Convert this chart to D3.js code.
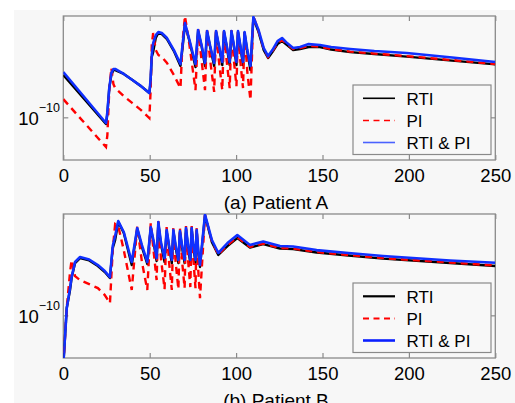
<!DOCTYPE html>
<html>
<head>
<meta charset="utf-8">
<script src="https://cdn.jsdelivr.net/npm/d3@7"></script>
<style>
  body { margin: 0; background: #fff; }
  text { font-family: "Liberation Sans", Arial, sans-serif; fill: #000; }
</style>
</head>
<body>
<div id="chart"></div>
<script>
// ---- data ----
const seriesNames = ["RTI", "PI", "RTI & PI"];
const xTicks = [0, 50, 100, 150, 200, 250];
const yTicks = [1e-10];

// Patient A
const daysA = [0, 24.7, 25.5, 26.6, 27.8, 29, 30, 35, 40, 45, 49.8, 50.5, 51.2, 52, 53.5, 55, 57, 60, 64, 67.8,
  69, 70.4, 73, 76.5, 78, 80, 82, 83.2, 85, 87.3, 88.4, 90, 92, 93, 94.5, 96.3, 97.3, 98.7, 100.2, 101.1,
  102.5, 104, 104.9, 106.5, 108.3, 110, 113, 116, 118.5, 121, 124, 126.6, 129.5, 133, 137, 142, 148.5,
  155, 166, 180, 198.7, 225, 250];
const rtiA = [2.49, 0.865, 1.07, 1.88, 2.49, 2.77, 2.77, 2.55, 2.24, 1.96, 1.69, 2.14, 3.68, 4.09, 5.54, 6.17, 6.04, 5.42, 4.18, 3.03,
  4.46, 7.49, 5.19, 2.96, 6.44, 4.66, 3.03, 6.30, 4.56, 3.03, 6.30, 4.66, 3.09, 6.30, 4.66, 3.09, 6.30, 4.66, 3.09, 6.30,
  4.56, 3.09, 6.17, 4.09, 2.77, 8.53, 6.30, 4.27, 3.60, 4.09, 4.86, 5.19, 4.76, 4.27, 4.37, 4.56, 4.56,
  4.32, 4.09, 3.92, 3.71, 3.40, 3.14].map(v => v * 1e-10);
const piA = [1.48, 0.527, 0.682, 1.80, 2.90, 2.05, 1.88, 1.58, 1.36, 1.17, 0.985, 1.73, 4.76, 6.17, 4.27, 3.84, 3.68, 3.23, 2.49, 1.88,
  5.08, 8.90, 4.76, 1.80, 6.72, 3.44, 1.80, 6.58, 3.44, 1.73, 6.58, 3.44, 1.80, 6.58, 3.44, 1.88, 6.58, 3.44, 1.96, 6.44,
  3.30, 1.88, 6.30, 2.66, 1.45, 8.90, 6.44, 4.37, 3.68, 4.18, 4.97, 5.30, 4.86, 4.37, 4.46, 4.66, 4.61,
  4.37, 4.13, 3.96, 3.75, 3.44, 3.16].map(v => v * 1e-10);
const bothA = [2.66, 0.885, 1.12, 1.88, 2.60, 2.84, 2.84, 2.55, 2.24, 1.96, 1.69, 2.24, 3.84, 4.97, 5.91, 6.30, 6.17, 5.54, 4.27, 3.16,
  4.76, 7.65, 5.30, 3.16, 6.58, 4.76, 3.23, 6.44, 4.66, 3.23, 6.44, 4.76, 3.30, 6.44, 4.76, 3.30, 6.44, 4.76, 3.30, 6.44,
  4.66, 3.30, 6.30, 4.27, 3.03, 8.71, 6.58, 4.46, 3.75, 4.27, 5.19, 5.54, 4.97, 4.46, 4.56, 4.86, 4.76,
  4.56, 4.37, 4.18, 4.01, 3.64, 3.30].map(v => v * 1e-10);

// Patient B
const daysB = [0, 2, 3.9, 4.8, 6.8, 9.7, 15, 20, 24, 27, 28.6, 30, 31.8, 35, 39.6, 42.8, 45.5, 48.6, 50.6, 52.5,
  54, 55, 56.5, 58.6, 59.8, 61.2, 62.8, 63.7, 65, 66.6, 67.5, 68.8, 70.2, 71, 72.2, 73.5, 74.3, 75.3, 76.5,
  77.2, 78.1, 79.1, 82, 86, 89.7, 95, 100.7, 108, 115.7, 125.4, 133, 146.6, 165, 185, 223.8, 250];
const rtiB = [0.342, 1.17, 1.73, 2.24, 3.09, 3.44, 3.27, 2.90, 2.55, 2.24, 4.27, 5.08, 7.49, 5.91, 2.96, 6.44, 4.37, 3.03, 6.58, 4.56,
  3.23, 7.33, 4.66, 3.16, 6.17, 4.37, 3.09, 6.17, 4.37, 3.09, 6.04, 4.27, 3.09, 6.44, 4.37, 3.09, 6.44, 4.37, 3.09,
  6.17, 3.92, 2.84, 8.62, 4.86, 3.68, 4.46, 5.30, 4.32, 4.66, 4.23, 4.18, 3.88, 3.64, 3.40, 3.09, 2.90].map(v => v * 1e-10);
const piB = [0.342, 1.17, 2.55, 3.30, 2.33, 2.14, 1.96, 1.80, 1.55, 1.30, 4.09, 7.17, 6.87, 4.09, 1.73, 6.87, 3.16, 1.73, 7.33, 3.68,
  2.14, 7.65, 3.44, 1.76, 6.72, 3.16, 1.73, 6.72, 3.16, 1.76, 6.58, 3.16, 1.80, 6.87, 3.30, 1.84, 6.87, 3.30, 1.80,
  6.58, 2.66, 1.45, 8.71, 4.97, 3.71, 4.56, 5.42, 4.37, 4.71, 4.27, 4.23, 3.92, 3.68, 3.44, 3.13, 2.93].map(v => v * 1e-10);
const bothB = [0.342, 1.17, 1.80, 2.28, 3.16, 3.52, 3.34, 2.96, 2.60, 2.28, 4.46, 5.54, 7.65, 6.04, 3.16, 6.58, 4.56, 3.16, 6.72, 4.76,
  3.44, 7.49, 4.86, 3.44, 6.30, 4.56, 3.30, 6.30, 4.56, 3.30, 6.17, 4.46, 3.30, 6.58, 4.56, 3.30, 6.58, 4.56, 3.30,
  6.30, 4.09, 2.96, 8.80, 5.08, 3.84, 4.76, 5.66, 4.56, 4.92, 4.46, 4.42, 4.09, 3.84, 3.60, 3.27, 3.11].map(v => v * 1e-10);

// ---- layout ----
const width = 515, height = 403;
const plotLeft = 63.3, plotRight = 495.3, plotH = 144;

const svg = d3.select("#chart").append("svg")
  .attr("width", width)
  .attr("height", height);

svg.append("rect")
  .attr("x", 14).attr("y", 10)
  .attr("width", width - 14).attr("height", height - 10)
  .attr("fill", "#f7f7f7");

let x = d3.scaleLinear().domain([0, 250]).range([plotLeft, plotRight]);
let y = d3.scaleLog().domain([1e-10 * Math.pow(10, -0.4), 1e-10 * Math.pow(10, 0.95)]).range([plotH, 0]);

function drawPanel(id, top, days, rti, pi, both, caption, thinLegend) {
  let g = svg.append("g").attr("transform", `translate(0, ${top})`);

  g.append("clipPath").attr("id", "clip" + id)
    .append("rect")
    .attr("x", plotLeft).attr("y", 0)
    .attr("width", plotRight - plotLeft).attr("height", plotH);

  // plot box
  g.append("rect")
    .attr("x", plotLeft).attr("y", 0)
    .attr("width", plotRight - plotLeft).attr("height", plotH)
    .attr("fill", "#f8f8f8")
    .attr("stroke", "#8a8a8a")
    .attr("stroke-width", 1.3);

  // x axis, ticks inward
  let xb = g.append("g")
    .attr("transform", `translate(0, ${plotH})`)
    .call(d3.axisBottom(x).tickValues(xTicks).tickSize(-5).tickPadding(8.6));
  let xt = g.append("g")
    .call(d3.axisTop(x).tickValues(xTicks).tickSize(-5).tickFormat(""));
  let yl = g.append("g")
    .attr("transform", `translate(${plotLeft}, 0)`)
    .call(d3.axisLeft(y).tickValues(yTicks).tickSize(-5).tickFormat(""));
  let yr = g.append("g")
    .attr("transform", `translate(${plotRight}, 0)`)
    .call(d3.axisRight(y).tickValues(yTicks).tickSize(-5).tickFormat(""));
  [xb, xt, yl, yr].forEach(a => {
    a.select(".domain").remove();
    a.selectAll("line").attr("stroke", "#8a8a8a").attr("stroke-width", 1.2);
  });
  xb.selectAll("text")
    .style("font-family", '"Liberation Sans", Arial, sans-serif')
    .style("font-size", "18.5px")
    .attr("fill", "#000");

  // y tick label 10^-10
  let lab = g.append("text")
    .attr("x", plotLeft - 3.3)
    .attr("y", y(1e-10) + 7.7)
    .attr("text-anchor", "end")
    .style("font-size", "18.5px");
  lab.append("tspan").text("10");
  lab.append("tspan").attr("dy", -13).style("font-size", "12.5px").text("\u221210");

  // lines
  let line = d3.line()
    .x(d => x(d[0]))
    .y(d => y(d[1]));
  let plot = g.append("g").attr("clip-path", `url(#clip${id})`);
  plot.append("path")
    .attr("d", line(days.map((t, i) => [t, rti[i]])))
    .attr("fill", "none").attr("stroke", "#000").attr("stroke-width", 2.4)
    .attr("stroke-linejoin", "round");
  plot.append("path")
    .attr("d", line(days.map((t, i) => [t, pi[i]])))
    .attr("fill", "none").attr("stroke", "#ff0000").attr("stroke-width", 2.4)
    .attr("stroke-dasharray", "7,5");
  plot.append("path")
    .attr("d", line(days.map((t, i) => [t, both[i]])))
    .attr("fill", "none").attr("stroke", "#1030ff").attr("stroke-width", 2.6)
    .attr("stroke-linejoin", "round");

  // legend
  let leg = g.append("g");
  leg.append("rect")
    .attr("x", 353).attr("y", 69)
    .attr("width", 138).attr("height", 69.5)
    .attr("fill", "#f8f8f8")
    .attr("stroke", "#8a8a8a").attr("stroke-width", 1.2);
  let rows = [82.3, 104.5, 126.5];
  let colors = ["#000", "#ff0000", thinLegend ? "#4a62ff" : "#0a20ff"];
  let widths = thinLegend ? [1.6, 1.6, 1.6] : [2.2, 2.2, 2.6];
  seriesNames.forEach((name, i) => {
    leg.append("line")
      .attr("x1", 363).attr("x2", 395)
      .attr("y1", rows[i]).attr("y2", rows[i])
      .attr("stroke", colors[i])
      .attr("stroke-width", widths[i])
      .attr("stroke-dasharray", i == 1 ? "6,4.5" : null);
    leg.append("text")
      .attr("x", 406.5).attr("y", rows[i] + 6.3)
      .style("font-size", "17px")
      .text(name);
  });

  // caption
  g.append("text")
    .attr("x", 276).attr("y", plotH + 48.5)
    .attr("text-anchor", "middle")
    .style("font-size", "19px")
    .text(caption);
}

drawPanel("A", 16, daysA, rtiA, piA, bothA, "(a) Patient A", true);
drawPanel("B", 214, daysB, rtiB, piB, bothB, "(b) Patient B", false);
</script>
</body>
</html>
